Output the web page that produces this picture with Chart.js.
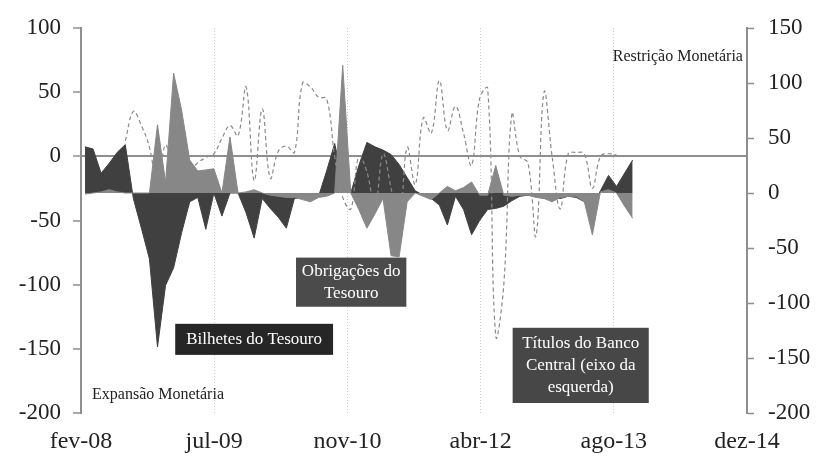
<!DOCTYPE html>
<html><head><meta charset="utf-8">
<script src="https://cdn.jsdelivr.net/npm/chart.js@4.4.1/dist/chart.umd.min.js"></script>
<style>html,body{margin:0;padding:0;background:#fff;}</style>
</head><body>
<canvas id="c" width="818" height="459"></canvas>
<script>
// Monthly categories: fev-08 .. out-13
const monthNames = ['jan','fev','mar','abr','mai','jun','jul','ago','set','out','nov','dez'];
const categories = [];
for (let k = 0; k < 69; k++) {
  const m = (1 + k) % 12, yr = 8 + Math.floor((1 + k) / 12);
  categories.push(monthNames[m] + '-' + String(yr).padStart(2, '0'));
}
const xTickLabels = ['fev-08','jul-09','nov-10','abr-12','ago-13','dez-14'];
const leftTicks = [-200,-150,-100,-50,0,50,100];
const rightTicks = [-200,-150,-100,-50,0,50,100,150];

// Bilhetes do Tesouro (right axis)
const bilhetes = [42,40,18,27,37,44,-5,-32,-60,-140,
  -84,-68,-36,-8,-4,-33,0,-21,0,0,
  -18,-41,-5,-14,-22,-32,-5,-4,-4,-3,
  20,45,12,0,25,46,42,39,35,26,
  14,2,-2,-5,-11,-29,-3,-15,-38,-25,
  -15,-14,-12,-7,-3,-2,-3,-5,-3,-5,
  -3,-4,-8,-12,2,16,6,18,30];
// Obrigações do Tesouro (right axis)
const obrigacoes = [-1,0,1,3,1,0,0,0,0,62,
  10,109,75,30,20,21,22,0,51,0,
  1,3,0,-2,-3,-4,-4,-6,-8,-4,
  -3,0,116,0,-15,-32,-19,-5,-57,-58,
  -8,0,-3,-6,0,6,2,5,10,-2,
  -2,25,-2,-3,-2,-2,-4,-5,-8,-4,
  -3,-3,-8,-38,1,3,0,-12,-23];
// Títulos do Banco Central (left axis)
const titulos = [null,null,null,null,null,12,35,24,7,-23,
  9,-14,-10,-11,-5,-1,2,14,24,16,
  54,-19,37,-17,4,8,3,57,54,46,
  45,0,-32,-41,0,-12,-40,2,-25,-54,
  7,-22,30,18,59,20,39,18,-7,45,
  53,-140,-100,33,0,-5,-62,50,0,-41,
  2,3,2,-25,0,2,1,null,null];

const toXY = arr => categories.map((c, i) => ({x: i, y: arr[i]}));

const FONT = 'Liberation Serif';
const AX = '#8f8f8f';

// annotation placement in data units (x: month index, y: left-axis value)
const boxes = [
  {lines:['Bilhetes do Tesouro'], x1:11.2, x2:30.8, y1:-130.5, y2:-154.7, fill:'#262626'},
  {lines:['Obrigações do','Tesouro'], x1:26.2, x2:39.9, y1:-78.9, y2:-117.2, fill:'#4b4b4b'},
  {lines:['Títulos do Banco','Central (eixo da','esquerda)'], x1:53.1, x2:70.0, y1:-133.6, y2:-192.2, fill:'#474747'}
];
const notesText = [
  {text:'Restrição Monetária', x:81.7, y:77.3, align:'right'},
  {text:'Expansão Monetária', x:0.87, y:-186, align:'left'}
];

const notesPlugin = {
  id: 'notes',
  afterDraw(chart) {
    const {ctx, scales: {x, y}} = chart;
    ctx.save();
    ctx.textBaseline = 'middle';
    ctx.font = '16px "' + FONT + '"';
    ctx.fillStyle = '#222';
    notesText.forEach(n => {
      ctx.textAlign = n.align;
      ctx.fillText(n.text, x.getPixelForValue(n.x), y.getPixelForValue(n.y));
    });
    boxes.forEach(b => {
      const px1 = x.getPixelForValue(b.x1), px2 = x.getPixelForValue(b.x2);
      const py1 = y.getPixelForValue(b.y1), py2 = y.getPixelForValue(b.y2);
      ctx.fillStyle = b.fill;
      ctx.fillRect(px1, py1, px2 - px1, py2 - py1);
      ctx.fillStyle = '#fff';
      ctx.textAlign = 'center';
      ctx.font = '17px "' + FONT + '"';
      const lh = 22;
      const cx = (px1 + px2) / 2, cy = (py1 + py2) / 2;
      const n = b.lines.length;
      b.lines.forEach((t, k) => ctx.fillText(t, cx, cy + (k - (n - 1) / 2) * lh));
    });
    ctx.restore();
  }
};

new Chart(document.getElementById('c'), {
  type: 'line',
  data: {
    datasets: [
      {label:'Títulos do Banco Central', data: toXY(titulos), yAxisID:'y',
       borderColor:'#8a8a8a', borderWidth:1.2, borderDash:[4,3], pointRadius:0,
       tension:0.4, fill:false, order:0},
      {label:'Obrigações do Tesouro', data: toXY(obrigacoes), yAxisID:'y1',
       backgroundColor:'#878787', borderColor:'#878787', borderWidth:1, pointRadius:0,
       tension:0, fill:{value:0}, order:1},
      {label:'Bilhetes do Tesouro', data: toXY(bilhetes), yAxisID:'y1',
       backgroundColor:'#404040', borderColor:'#404040', borderWidth:1, pointRadius:0,
       tension:0, fill:{value:0}, order:2}
    ]
  },
  options: {
    responsive:false, animation:false,
    layout:{padding:{top:28, left:0, right:0, bottom:0}},
    plugins:{legend:{display:false}, tooltip:{enabled:false}},
    scales: {
      x: {
        type:'linear', min:-0.5, max:82.2,
        afterBuildTicks: s => {
          s.ticks = xTickLabels.map((_, k) => ({value: s.min + k * (s.max - s.min) / (xTickLabels.length - 1)}));
        },
        ticks:{callback:(v, idx) => xTickLabels[idx], font:{family:FONT, size:24}, color:'#222',
               padding:14, maxRotation:0, autoSkip:false},
        grid:{color: c => (c.index > 0 && c.index < xTickLabels.length - 1) ? '#cfcfcf' : 'transparent',
              drawTicks:false, lineWidth:1},
        border:{display:false, dash:[1,2]},
        afterFit: s => { s.height = 46; }
      },
      y: {
        position:'left', min:-200, max:100, z:1,
        afterBuildTicks: s => { s.ticks = leftTicks.map(v => ({value:v})); },
        ticks:{font:{family:FONT, size:23}, color:'#222', padding:12},
        grid:{color: c => (c.tick && c.tick.value === 0) ? AX : 'transparent', lineWidth:2,
              tickColor:AX, tickLength:8, tickWidth:1.5},
        border:{color:AX, width:2},
        afterFit: s => { s.width = 81; }
      },
      y1: {
        position:'right', min:-200, max:150,
        afterBuildTicks: s => { s.ticks = rightTicks.map(v => ({value:v})); },
        ticks:{font:{family:FONT, size:23}, color:'#222', padding:14},
        grid:{drawOnChartArea:false, tickColor:AX, tickLength:7, tickWidth:1.5},
        border:{color:AX, width:2},
        afterFit: s => { s.width = 71; }
      }
    }
  },
  plugins:[notesPlugin]
});
</script>
</body></html>
